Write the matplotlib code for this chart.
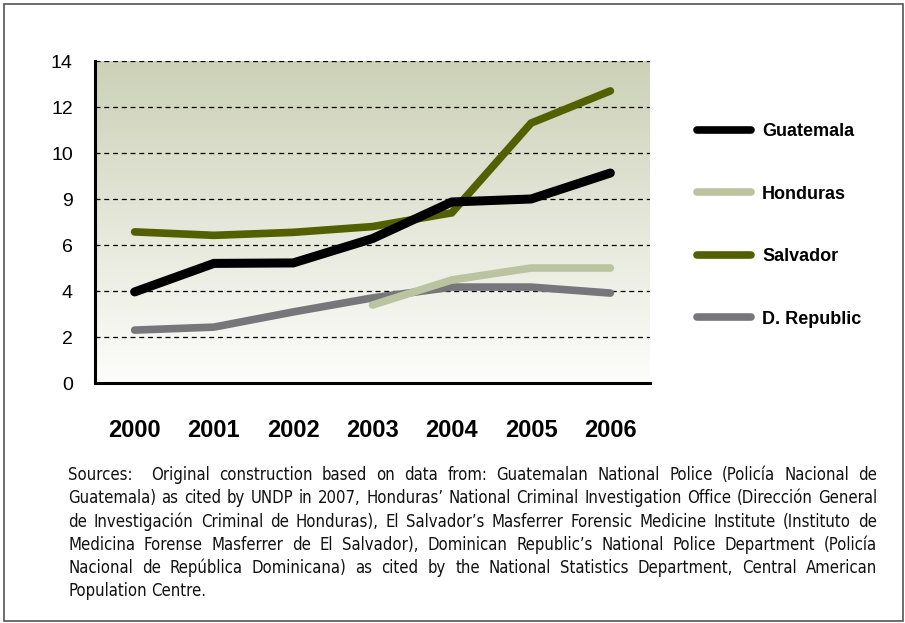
import matplotlib
matplotlib.use("Agg")
import matplotlib.pyplot as plt
from matplotlib import font_manager as fm
import numpy as np
from matplotlib.colors import LinearSegmentedColormap
from matplotlib.patches import Rectangle


def find_condensed():
    for fam, st in [("Liberation Sans Narrow", "normal"), ("DejaVu Sans", "condensed"),
                    ("Roboto Condensed", "normal"), ("Open Sans Condensed", "normal"),
                    ("Open Sans", "condensed"), ("Noto Sans", "condensed"), ("Roboto", "condensed")]:
        try:
            path = fm.findfont(fm.FontProperties(family=fam, stretch=st), fallback_to_default=False)
        except Exception:
            continue
        low = path.lower()
        if st == "normal" or "condensed" in low or "narrow" in low:
            return path
    return None


cond_path = find_condensed()

years = [2000, 2001, 2002, 2003, 2004, 2005, 2006]
guatemala = [3.96, 5.2, 5.22, 6.28, 7.87, 8.0, 9.13]
honduras = [None, None, None, 3.39, 4.48, 5.0, 5.0]
salvador = [6.57, 6.42, 6.55, 6.8, 7.4, 11.3, 12.7]
drepublic = [2.3, 2.43, 3.09, 3.7, 4.17, 4.17, 3.91]

series_names = ["Guatemala", "Honduras", "Salvador", "D. Republic"]
series_colors = ["#000000", "#bcc3a0", "#526000", "#77777b"]
series_widths = [6.5, 5.5, 5.5, 5.5]

ytick_vals = [0, 2, 4, 6, 8, 10, 12, 14]
ytick_labels = ["0", "2", "4", "6", "9", "10", "12", "14"]

source_lines = [
    "Sources:  Original construction based on data from: Guatemalan National Police (Policía Nacional de",
    "Guatemala) as cited by UNDP in 2007, Honduras’ National Criminal Investigation Office (Dirección General",
    "de Investigación Criminal de Honduras), El Salvador’s Masferrer Forensic Medicine Institute (Instituto de",
    "Medicina Forense Masferrer de El Salvador), Dominican Republic’s National Police Department (Policía",
    "Nacional de República Dominicana) as cited by the National Statistics Department, Central American",
    "Population Centre.",
]

plt.rcParams['font.family'] = ['Liberation Sans', 'DejaVu Sans']

W, H = 905, 623
fig = plt.figure(figsize=(W / 100, H / 100), dpi=100)
fig.patch.set_facecolor("white")

fig.add_artist(Rectangle((4 / W, 2 / H), 899 / W, 617 / H, transform=fig.transFigure,
                         fill=False, edgecolor="#555555", linewidth=1.2))

ax = fig.add_axes([95 / W, 1 - 383 / H, 555 / W, 322 / H])
x = np.arange(len(years))

top = np.array([204, 209, 183]) / 255
bot = np.array([253, 253, 251]) / 255
cmap = LinearSegmentedColormap.from_list("bg", [bot, top])
grad = np.linspace(0, 1, 256).reshape(-1, 1)
ax.imshow(grad, extent=(-0.5, 6.5, 0, 14), origin="lower", aspect="auto", cmap=cmap, zorder=0)

for yv in ytick_vals[1:]:
    ax.axhline(yv, color="black", linestyle=(0, (4, 3)), linewidth=0.9, zorder=1)

data = [guatemala, honduras, salvador, drepublic]
order = [3, 1, 2, 0]
lines = {}
for i in order:
    vals = np.array([np.nan if v is None else v for v in data[i]], dtype=float)
    ln, = ax.plot(x, vals, color=series_colors[i], linewidth=series_widths[i],
                  solid_capstyle="round", solid_joinstyle="miter", zorder=3 + (i == 0),
                  label=series_names[i])
    lines[i] = ln

ax.set_xlim(-0.5, 6.5)
ax.set_ylim(0, 14)
ax.set_yticks(ytick_vals)
ax.set_yticklabels(ytick_labels, fontsize=14)
ax.set_xticks(x)
ax.set_xticklabels([str(y) for y in years], fontsize=17, fontweight="bold")
ax.tick_params(axis="both", length=0)
ax.tick_params(axis="y", pad=16)
ax.tick_params(axis="x", pad=26)
for s in ["top", "right"]:
    ax.spines[s].set_visible(False)
for s in ["left", "bottom"]:
    ax.spines[s].set_linewidth(2.2)
    ax.spines[s].set_color("black")
    ax.spines[s].set_zorder(5)

leg = fig.legend([lines[i] for i in range(4)], series_names, loc="upper left",
                 bbox_to_anchor=(688 / W, 1 - 114 / H), frameon=False,
                 prop={"weight": "bold", "size": 13}, handlelength=3.0, handletextpad=0.6,
                 labelspacing=2.52, borderpad=0)
for h in leg.legend_handles:
    h.set_linewidth(5.5)
    h.set_solid_capstyle("round")

# justified source text
fig.canvas.draw()
renderer = fig.canvas.get_renderer()
left_px, right_px = 68, 877
base0 = 480
step = 23.3


def fprops(size):
    if cond_path:
        return fm.FontProperties(fname=cond_path, size=size)
    return fm.FontProperties(family=["Liberation Sans", "DejaVu Sans"], size=size)


def width_of(s, size):
    t = fig.text(0, 0, s, fontproperties=fprops(size))
    w = t.get_window_extent(renderer).width
    t.remove()
    return w


fs = 14.5
natural = max(width_of(l, fs) for l in source_lines[:-1])
if natural > (right_px - left_px):
    fs = fs * (right_px - left_px) / natural * 0.985

for li, line in enumerate(source_lines):
    tokens = [w for w in line.split(" ") if w != ""]
    texts, widths = [], []
    for w in tokens:
        t = fig.text(0, 0, w, fontproperties=fprops(fs), va="baseline", ha="left", color="#111111")
        texts.append(t)
        widths.append(t.get_window_extent(renderer).width)
    space_w = width_of("a a", fs) - width_of("aa", fs)
    ngaps = len(tokens) - 1
    extra = [1.0] * ngaps
    if li == 0:
        extra[0] = 2.0
    if li < len(source_lines) - 1:
        gap = (right_px - left_px - sum(widths)) / sum(extra)
    else:
        gap = space_w
    xpos = left_px
    y = 1 - (base0 + li * step) / H
    for k, t in enumerate(texts):
        t.set_position((xpos / W, y))
        xpos += widths[k]
        if k < ngaps:
            xpos += gap * extra[k]

fig.savefig("out.png", dpi=100)
